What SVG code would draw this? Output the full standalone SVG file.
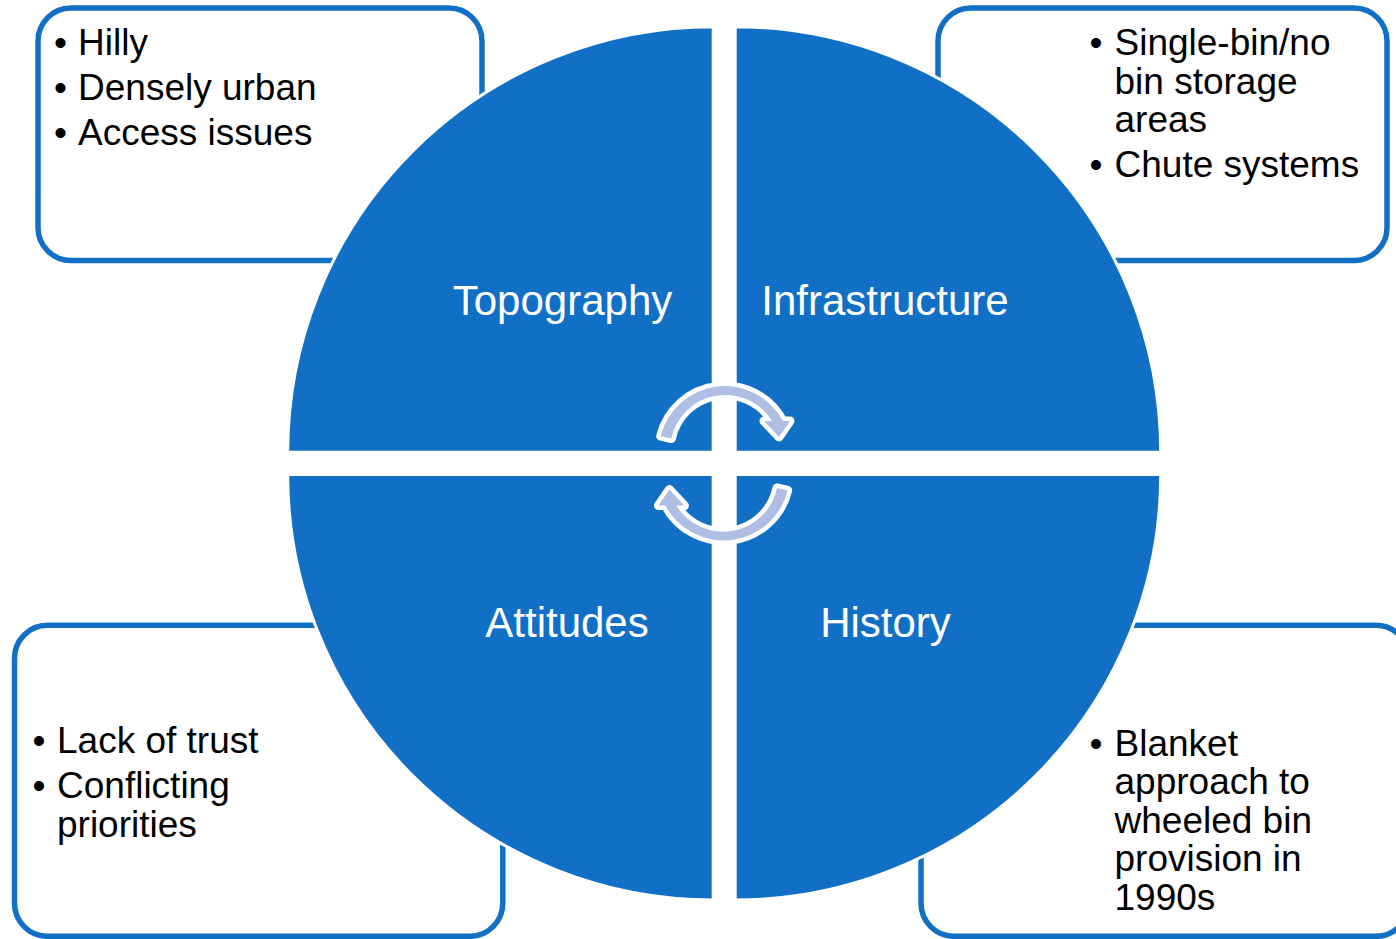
<svg xmlns="http://www.w3.org/2000/svg" width="1396" height="939" viewBox="0 0 1396 939">
  <style>
    .box { fill: #ffffff; stroke: #1170C6; stroke-width: 5.5; }
    .quad { fill: #1170C6; stroke: #ffffff; stroke-width: 3; }
    .lbl { font-family: "Liberation Sans", Arial, sans-serif; font-size: 42px; fill: #ffffff; text-anchor: middle; }
    .txt { font-family: "Liberation Sans", Arial, sans-serif; font-size: 37px; fill: #000000; }
    .arr { fill: #B0BEE3; stroke: #ffffff; stroke-width: 9; stroke-linejoin: round; paint-order: stroke; }
  </style>
  <defs>
    <path id="cyc" class="arr" d="M660.7,436.2 A66,66 0 0 1 783,421 L790,421 L779,437 L764,421 L772,421 A55,55 0 0 0 671.4,438.6 Z"/>
  </defs>
  <rect width="1396" height="939" fill="#ffffff"/>

  <g id="box-topography">
    <rect class="box" x="38" y="8" width="444" height="252.5" rx="33"/>
    <text class="txt" x="54" y="55">•</text><text class="txt" x="78" y="55">Hilly</text>
    <text class="txt" x="54" y="100">•</text><text class="txt" x="78" y="100">Densely urban</text>
    <text class="txt" x="54" y="145">•</text><text class="txt" x="78" y="145">Access issues</text>
  </g>
  <g id="box-infrastructure">
    <rect class="box" x="938" y="8" width="449" height="252.5" rx="33"/>
    <text class="txt" x="1089.5" y="55">•</text><text class="txt" x="1114.5" y="55">Single-bin/no</text>
    <text class="txt" x="1114.5" y="93.5">bin storage</text>
    <text class="txt" x="1114.5" y="132">areas</text>
    <text class="txt" x="1089.5" y="176.5">•</text><text class="txt" x="1114.5" y="176.5">Chute systems</text>
  </g>
  <g id="box-attitudes">
    <rect class="box" x="14.5" y="625.3" width="488.3" height="311" rx="33"/>
    <text class="txt" x="32.5" y="753.3">•</text><text class="txt" x="57" y="753.3">Lack of trust</text>
    <text class="txt" x="32.5" y="798.3">•</text><text class="txt" x="57" y="798.3">Conflicting</text>
    <text class="txt" x="57" y="836.7">priorities</text>
  </g>
  <g id="box-history">
    <rect class="box" x="921" y="625.3" width="488" height="311" rx="33"/>
    <text class="txt" x="1089.5" y="756">•</text><text class="txt" x="1114.5" y="756">Blanket</text>
    <text class="txt" x="1114.5" y="794.4">approach to</text>
    <text class="txt" x="1114.5" y="832.8">wheeled bin</text>
    <text class="txt" x="1114.5" y="871.2">provision in</text>
    <text class="txt" x="1114.5" y="909.6">1990s</text>
  </g>

  <g id="quad-topography">
    <path class="quad" d="M713.2,452.2 H287.7 A425.5,425.5 0 0 1 713.2,26.7 Z"/>
    <text class="lbl" x="562.5" y="315">Topography</text>
  </g>
  <g id="quad-infrastructure">
    <path class="quad" d="M735.2,452.2 V26.7 A425.5,425.5 0 0 1 1160.7,452.2 Z"/>
    <text class="lbl" x="885" y="315">Infrastructure</text>
  </g>
  <g id="quad-attitudes">
    <path class="quad" d="M713.2,474.5 V900 A425.5,425.5 0 0 1 287.7,474.5 Z"/>
    <text class="lbl" x="567" y="637">Attitudes</text>
  </g>
  <g id="quad-history">
    <path class="quad" d="M735.2,474.5 H1160.7 A425.5,425.5 0 0 1 735.2,900 Z"/>
    <text class="lbl" x="885.5" y="637">History</text>
  </g>

  <g id="connectors">
    <use href="#cyc"/>
    <use href="#cyc" transform="rotate(180 724.2 463.3)"/>
  </g>
</svg>
